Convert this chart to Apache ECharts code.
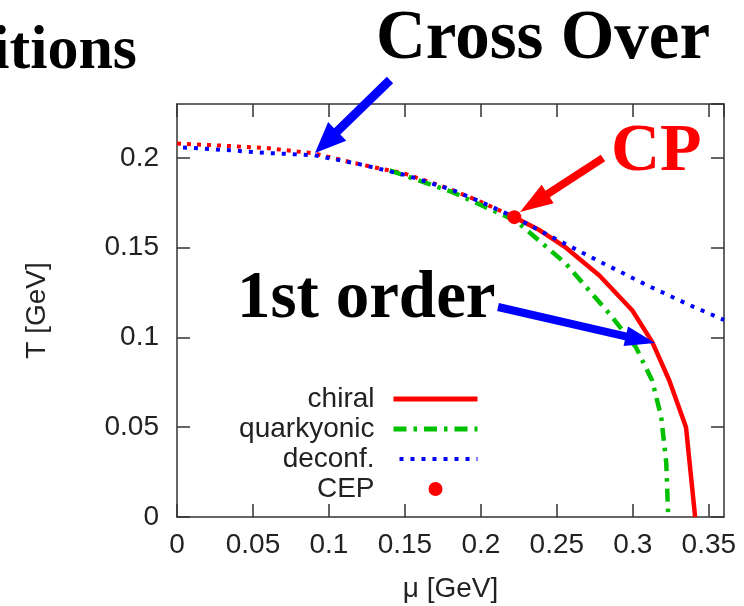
<!DOCTYPE html>
<html>
<head>
<meta charset="utf-8">
<script src="https://cdn.jsdelivr.net/npm/echarts@6/dist/echarts.min.js"></script>
<style>
html,body{margin:0;padding:0;background:#fff;}
#chart{width:744px;height:606px;}
</style>
</head>
<body>
<div id="chart"></div>
<script>
// ---- data ----
const xTicks = [0, 0.05, 0.1, 0.15, 0.2, 0.25, 0.3, 0.35];
const yTicks = [0, 0.05, 0.1, 0.15, 0.2];

// chiral transition, crossover part (dotted), mu [GeV], T [GeV]
const chiralCrossMu = [0, 0.03, 0.06, 0.09, 0.12, 0.15, 0.18, 0.20, 0.222];
const chiralCrossT  = [0.208, 0.2068, 0.2054, 0.2025, 0.1965, 0.1912, 0.1825, 0.1755, 0.167];

// chiral transition, first-order part (solid)
const chiralMu = [0.222, 0.2385, 0.256, 0.278, 0.2997, 0.3128, 0.324, 0.335, 0.341];
const chiralT  = [0.167, 0.1598, 0.1500, 0.1345, 0.115, 0.0974, 0.076, 0.05, 0];

// quarkyonic
const quarkMu = [0.14, 0.181, 0.223, 0.256, 0.2845, 0.302, 0.3127, 0.3187, 0.322, 0.3233];
const quarkT  = [0.193, 0.181, 0.165, 0.141, 0.1133, 0.0946, 0.076, 0.0556, 0.030, 0];

// deconfinement
const deconfMu = [0, 0.03, 0.06, 0.09, 0.12, 0.15, 0.18, 0.20, 0.222, 0.25, 0.28, 0.31, 0.34, 0.36];
const deconfT  = [0.206, 0.2045, 0.2027, 0.2015, 0.1965, 0.1905, 0.1825, 0.1755, 0.167, 0.1545, 0.1415, 0.1288, 0.117, 0.1098];

// critical end point
const cepMu = [0.222];
const cepT  = [0.167];

const zip = (a, b) => a.map((v, i) => [v, b[i]]);

// ---- annotation helpers ----
function arrow(tail, tip, shaft, headLen, headHalf, color) {
  const dx = tip[0] - tail[0], dy = tip[1] - tail[1];
  const L = Math.hypot(dx, dy);
  const ux = dx / L, uy = dy / L, nx = -uy, ny = ux;
  const bx = tip[0] - ux * headLen, by = tip[1] - uy * headLen;
  const s = shaft / 2;
  return {
    type: 'polygon', z: 100,
    shape: { points: [
      [tail[0] + nx * s, tail[1] + ny * s],
      [bx + nx * s, by + ny * s],
      [bx + nx * headHalf, by + ny * headHalf],
      [tip[0], tip[1]],
      [bx - nx * headHalf, by - ny * headHalf],
      [bx - nx * s, by - ny * s],
      [tail[0] - nx * s, tail[1] - ny * s]
    ] },
    style: { fill: color }
  };
}
function label(text, x, y, size, color, align) {
  return {
    type: 'text', x: x, y: y, z: 100,
    style: {
      text: text, fill: color,
      font: 'bold ' + size + 'px "Liberation Serif", "Times New Roman", serif',
      align: align || 'left', verticalAlign: 'middle',
      textAlign: align || 'left', textVerticalAlign: 'middle'
    }
  };
}

const axisFont = '"Liberation Sans", Arial, sans-serif';
const axisColor = '#333';
const labelColor = '#222';

const baseX = {
  type: 'value', min: 0, max: 0.36, interval: 0.05,
  axisLine: { show: true, onZero: false, lineStyle: { color: axisColor, width: 1.5 } },
  axisTick: { show: true, inside: true, length: 13, lineStyle: { color: axisColor, width: 1.5 } },
  splitLine: { show: false }
};
const baseY = {
  type: 'value', min: 0, max: 0.23, interval: 0.05,
  axisLine: { show: true, onZero: false, lineStyle: { color: axisColor, width: 1.5 } },
  axisTick: { show: true, inside: true, length: 13, lineStyle: { color: axisColor, width: 1.5 } },
  splitLine: { show: false }
};

const noSymbol = { opacity: 0, color: 'rgba(0,0,0,0)', borderWidth: 0 };

const chart = echarts.init(document.getElementById('chart'), null, { renderer: 'canvas' });
chart.setOption({
  animation: false,
  backgroundColor: '#fff',
  grid: { left: 177, right: 20, top: 104, bottom: 89, containLabel: false, outerBoundsMode: 'none' },
  xAxis: [
    Object.assign({}, baseX, {
      position: 'bottom',
      name: 'μ [GeV]', nameLocation: 'middle', nameGap: 58,
      nameTextStyle: { fontFamily: axisFont, fontSize: 28, color: labelColor },
      axisLabel: { show: true, margin: 14, fontFamily: axisFont, fontSize: 28, color: labelColor,
        showMaxLabel: false, formatter: v => String(+v.toFixed(2)) }
    }),
    Object.assign({}, baseX, { position: 'top', axisLabel: { show: false } })
  ],
  yAxis: [
    Object.assign({}, baseY, {
      position: 'left',
      name: 'T [GeV]', nameLocation: 'middle', nameGap: 126, nameRotate: 90,
      nameTextStyle: { fontFamily: axisFont, fontSize: 28, color: labelColor },
      axisLabel: { show: true, margin: 18, fontFamily: axisFont, fontSize: 28, color: labelColor,
        showMaxLabel: false, formatter: v => String(+v.toFixed(2)) }
    }),
    Object.assign({}, baseY, { position: 'right', axisLabel: { show: false } })
  ],
  legend: {
    data: [
      { name: 'chiral', itemStyle: noSymbol, lineStyle: { width: 5 } },
      { name: 'quarkyonic', itemStyle: noSymbol, lineStyle: { width: 5 } },
      { name: 'deconf.', itemStyle: noSymbol, lineStyle: { width: 4 } },
      { name: 'CEP' }
    ],
    orient: 'vertical', align: 'right',
    right: 264, top: 384, padding: 0, itemGap: 0,
    itemWidth: 84, itemHeight: 14,
    textStyle: { fontFamily: axisFont, fontSize: 28, color: labelColor, lineHeight: 30, padding: [0, 14, 0, 0] }
  },
  series: [
    { name: 'chiral-crossover', type: 'line', data: zip(chiralCrossMu, chiralCrossT),
      symbol: 'none', smooth: false,
      lineStyle: { color: '#ff0000', width: 4, type: [4, 6] }, itemStyle: { color: '#ff0000' } },
    { name: 'chiral', type: 'line', data: zip(chiralMu, chiralT),
      symbol: 'none', lineStyle: { color: '#ff0000', width: 4.5, type: 'solid' }, itemStyle: { color: '#ff0000' } },
    { name: 'quarkyonic', type: 'line', data: zip(quarkMu, quarkT),
      symbol: 'none', lineStyle: { color: '#00c000', width: 4.5, type: [13, 7, 3.5, 7] }, itemStyle: { color: '#00c000' } },
    { name: 'deconf.', type: 'line', data: zip(deconfMu, deconfT),
      symbol: 'none', lineStyle: { color: '#0000ff', width: 4, type: [4, 7], dashOffset: 5 }, itemStyle: { color: '#0000ff' } },
    { name: 'CEP', type: 'scatter', data: zip(cepMu, cepT),
      symbol: 'circle', symbolSize: 14, itemStyle: { color: '#ff0000', opacity: 1 }, z: 5 }
  ],
  graphic: [
    label('itions', 137, 52, 62, '#000', 'right'),
    label('Cross Over', 376, 40, 69, '#000', 'left'),
    label('CP', 611, 152, 68, '#ff0000', 'left'),
    label('1st order', 237, 300, 67, '#000', 'left'),
    arrow([390, 80], [315, 153], 9, 31, 13, '#0000ff'),
    arrow([603, 158], [520, 212], 8, 33, 11, '#ff0000'),
    arrow([498, 307], [655, 343], 8, 30, 10, '#0000ff')
  ]
});
</script>
</body>
</html>
